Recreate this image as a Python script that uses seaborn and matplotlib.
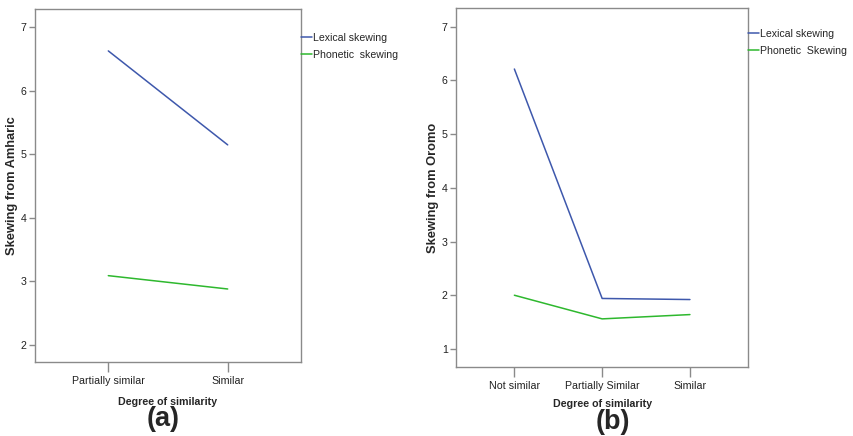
import matplotlib
matplotlib.use("Agg")
import matplotlib.pyplot as plt
import seaborn as sns
import pandas as pd

# ---- data ----
cats_a = ["Partially similar", "Similar"]
lexical_a = [6.63, 5.15]
phonetic_a = [3.09, 2.88]

cats_b = ["Not similar", "Partially Similar", "Similar"]
lexical_b = [6.21, 1.94, 1.92]
phonetic_b = [2.00, 1.56, 1.64]

series_a = ["Lexical skewing", "Phonetic  skewing"]
series_b = ["Lexical skewing", "Phonetic  Skewing"]

yticks_a = [2, 3, 4, 5, 6, 7]
yticks_b = [1, 2, 3, 4, 5, 6, 7]

BLUE = "#3e58ac"
GREEN = "#2eb82e"
FRAME = "#8a8a8a"
FONT = ["Liberation Sans", "DejaVu Sans"]

sns.set_style("white")
plt.rcParams["font.family"] = FONT

fig = plt.figure(figsize=(8.54, 4.36), dpi=100)
ax_a = fig.add_axes([35/854, 1-362/436, 266/854, 353/436])
ax_b = fig.add_axes([456/854, 1-366.7/436, 292.3/854, 358.4/436])


def draw(ax, cats, lex, pho, names, yticks, xlim, ylim, ylabel, leg_y,
         ylab_x, xlab_y):
    df = pd.DataFrame({
        "cat": cats + cats,
        "val": lex + pho,
        "series": [names[0]] * len(cats) + [names[1]] * len(cats),
    })
    sns.lineplot(data=df, x="cat", y="val", hue="series",
                 palette=[BLUE, GREEN], linewidth=1.1, ax=ax, sort=False)
    ax.set_xlim(*xlim)
    ax.set_ylim(*ylim)
    ax.set_yticks(yticks)
    ax.set_yticklabels([str(t) for t in yticks])
    for s in ax.spines.values():
        s.set_color(FRAME)
        s.set_linewidth(1.0)
    ax.tick_params(axis="x", direction="out", length=7, width=1.0,
                   color=FRAME, pad=3, bottom=True)
    ax.tick_params(axis="y", direction="out", length=4, width=1.0,
                   color=FRAME, pad=2, left=True)
    for lab in ax.get_xticklabels() + ax.get_yticklabels():
        lab.set_fontsize(7.7)
        lab.set_color("#222222")
    ax.set_xlabel("Degree of similarity", fontweight="bold", fontsize=7.7,
                  va="center")
    ax.xaxis.set_label_coords(0.5, xlab_y)
    ax.set_ylabel(ylabel, fontweight="bold", fontsize=9.3, va="center")
    ax.yaxis.set_label_coords(ylab_x, 0.5)
    handles, labels = ax.get_legend_handles_labels()
    leg = ax.legend(handles, labels, loc="upper left",
                    bbox_to_anchor=(1.0, leg_y), frameon=False,
                    handlelength=1.0, handletextpad=0.15, borderaxespad=0,
                    borderpad=0, labelspacing=0.62,
                    prop={"family": FONT, "size": 7.6})
    return leg


draw(ax_a, cats_a, lexical_a, phonetic_a, series_a, yticks_a,
     (-0.614, 1.614), (1.73, 7.29), "Skewing from Amharic", 0.932,
     (12-35)/266, (362-401.7)/353)
draw(ax_b, cats_b, lexical_b, phonetic_b, series_b, yticks_b,
     (-0.665, 2.665), (0.67, 7.34), "Skewing from Oromo", 0.942,
     (432.7-456)/292.3, (366.7-404)/358.4)

fig.text(163/854, 1-419/436, "(a)", ha="center", va="center",
         fontsize=19.5, fontweight="bold")
fig.text(613/854, 1-422/436, "(b)", ha="center", va="center",
         fontsize=19.5, fontweight="bold")

fig.savefig("out.png", dpi=100)
